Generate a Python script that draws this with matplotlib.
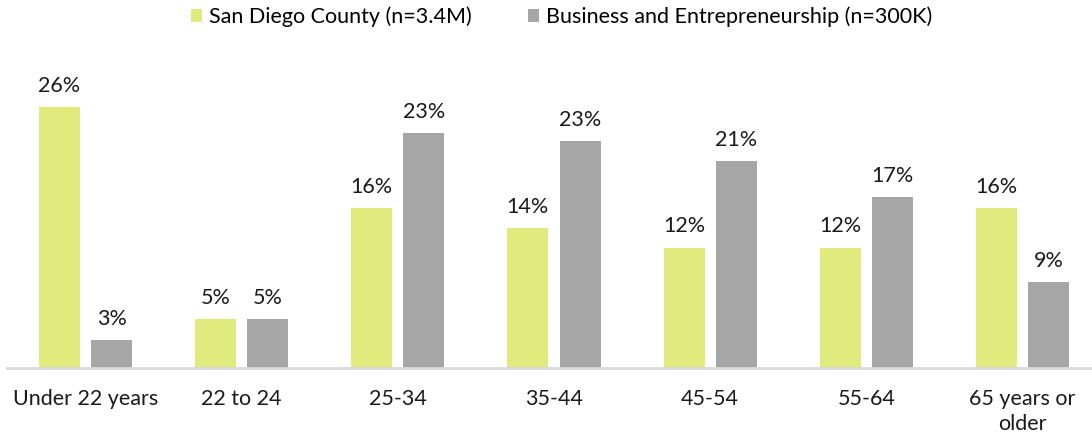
import numpy as np
import matplotlib.pyplot as plt

# Datos (porcentaje por grupo de edad)
categorias = ['Under 22 years', '22 to 24', '25-34', '35-44', '45-54', '55-64', '65 years or\nolder']
san_diego = [26.0, 4.9, 15.9, 13.9, 12.0, 12.0, 15.9]
negocios = [2.8, 4.9, 23.4, 22.6, 20.6, 17.0, 8.6]
series_labels = ['San Diego County (n=3.4M)', 'Business and Entrepreneurship (n=300K)']

color_sd = '#E1EB7D'
color_be = '#A6A6A6'

plt.rcParams['font.family'] = ['Lato', 'DejaVu Sans']

fig = plt.figure(figsize=(10.92, 4.36), dpi=100)
W, H = 1092, 436
base_y, top_y = 368, 60
ax = fig.add_axes([7.4 / W, 1 - base_y / H, 1093.2 / W, (base_y - top_y) / H])

x = np.arange(len(categorias))
ancho = 0.263
desp = 0.167
b1 = ax.bar(x - desp, san_diego, ancho, color=color_sd, label=series_labels[0])
b2 = ax.bar(x + desp, negocios, ancho, color=color_be, label=series_labels[1])

for barras, vals in [(b1, san_diego), (b2, negocios)]:
    for b, v in zip(barras, vals):
        ax.annotate(f'{v:.0f}%', (b.get_x() + b.get_width() / 2, v),
                    xytext=(0, 8), textcoords='offset points',
                    ha='center', va='bottom', fontsize=15.5, color='#1a1a1a')

ax.set_xlim(-0.5, len(categorias) - 0.5)
ax.set_ylim(0, (base_y - top_y) / 10.04)
ax.set_xticks(x)
ax.set_xticklabels(categorias, fontsize=15.5, color='#1a1a1a', linespacing=1.35)
ax.tick_params(axis='x', length=0, pad=15)
ax.set_yticks([])
for s in ['top', 'right', 'left']:
    ax.spines[s].set_visible(False)
ax.spines['bottom'].set_color('#D9D9D9')
ax.spines['bottom'].set_linewidth(2)

fig.legend(loc='center', bbox_to_anchor=(0.514, 1 - 17 / H), ncol=2, frameon=False,
           fontsize=15.5, handlelength=0.55, handleheight=0.55, handletextpad=0.3,
           columnspacing=2.6)

plt.savefig('out.png', dpi=100)
